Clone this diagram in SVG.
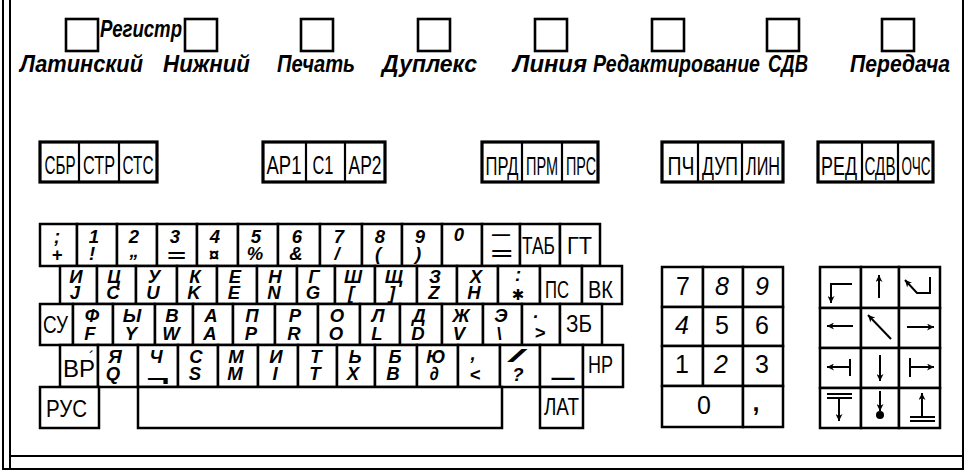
<svg xmlns="http://www.w3.org/2000/svg" width="968" height="475" viewBox="0 0 968 475">
<style>
.fr{fill:none;stroke:#000;stroke-width:2}
.ind{fill:#fff;stroke:#000;stroke-width:2.6}
.lb{font-family:"Liberation Sans",Arial,sans-serif;font-style:italic;font-weight:bold;font-size:23px;fill:#000}
.fo{fill:none;stroke:#000;stroke-width:3.2}
.fd{stroke:#000;stroke-width:2.2}
.ft{font-family:"Liberation Sans",Arial,sans-serif;font-size:26px;fill:#000;text-anchor:middle}
.k{fill:#fff;stroke:#000;stroke-width:2.5}
.ch{font-family:"Liberation Sans",Arial,sans-serif;font-style:italic;font-weight:bold;font-size:18.5px;text-anchor:middle;fill:#000}
.kn{font-family:"Liberation Sans",Arial,sans-serif;font-size:24px;fill:#000}
.num{font-family:"Liberation Sans",Arial,sans-serif;font-size:25px;text-anchor:middle;fill:#000}
.ar{fill:none;stroke:#000;stroke-width:2}
</style>
<defs>
<marker id="ah" viewBox="0 0 10 10" refX="10" refY="5" markerWidth="8" markerHeight="7" markerUnits="userSpaceOnUse" orient="auto">
<path d="M0,0 L10,5 L0,10 L3,5 z" fill="#000"/>
</marker>
</defs>
<rect width="968" height="475" fill="#fff"/>
<g id="frame">
<line class="fr" x1="3" y1="0" x2="3" y2="470"/>
<line class="fr" x1="10" y1="0" x2="10" y2="470"/>
<line class="fr" x1="963" y1="0" x2="963" y2="470"/>
<line class="fr" x1="10" y1="456" x2="963" y2="456" stroke-width="2.5"/>
<line class="fr" x1="3" y1="469" x2="963" y2="469"/>
</g>
<g id="indicators">
<g id="ind-lat"><rect class="ind" x="66" y="19" width="32" height="32"/><text class="lb" x="20" y="72" textLength="123" lengthAdjust="spacingAndGlyphs">Латинский</text></g>
<text id="reg-label" class="lb" x="100" y="37" font-size="18" textLength="82" lengthAdjust="spacingAndGlyphs">Регистр</text>
<g id="ind-low"><rect class="ind" x="185" y="19" width="32" height="32"/><text class="lb" x="163" y="72" textLength="87" lengthAdjust="spacingAndGlyphs">Нижний</text></g>
<g id="ind-print"><rect class="ind" x="301" y="19" width="32" height="32"/><text class="lb" x="277" y="72" textLength="78" lengthAdjust="spacingAndGlyphs">Печать</text></g>
<g id="ind-duplex"><rect class="ind" x="418" y="19" width="32" height="32"/><text class="lb" x="382" y="72" textLength="95" lengthAdjust="spacingAndGlyphs">Дуплекс</text></g>
<g id="ind-line"><rect class="ind" x="535" y="19" width="32" height="32"/><text class="lb" x="513" y="72" textLength="74" lengthAdjust="spacingAndGlyphs">Линия</text></g>
<g id="ind-edit"><rect class="ind" x="652" y="19" width="32" height="32"/><text class="lb" x="593" y="72" textLength="167" lengthAdjust="spacingAndGlyphs">Редактирование</text></g>
<g id="ind-sdv"><rect class="ind" x="767" y="19" width="32" height="32"/><text class="lb" x="768" y="72" textLength="40" lengthAdjust="spacingAndGlyphs">СДВ</text></g>
<g id="ind-tx"><rect class="ind" x="882" y="19" width="32" height="32"/><text class="lb" x="850" y="72" textLength="100" lengthAdjust="spacingAndGlyphs">Передача</text></g>
</g>
<g id="fkeys">
<g id="fg1"><rect class="fo" x="40" y="142" width="117" height="40"/><line class="fd" x1="79" y1="142" x2="79" y2="182"/><line class="fd" x1="119" y1="142" x2="119" y2="182"/>
<text class="ft" x="60" y="174" textLength="31" lengthAdjust="spacingAndGlyphs">СБР</text><text class="ft" x="99" y="174" textLength="32" lengthAdjust="spacingAndGlyphs">СТР</text><text class="ft" x="138" y="174" textLength="31" lengthAdjust="spacingAndGlyphs">СТС</text></g>
<g id="fg2"><rect class="fo" x="263" y="142" width="122" height="40"/><line class="fd" x1="306" y1="142" x2="306" y2="182"/><line class="fd" x1="345" y1="142" x2="345" y2="182"/>
<text class="ft" x="284" y="174" textLength="35" lengthAdjust="spacingAndGlyphs">АР1</text><text class="ft" x="323" y="174" textLength="21" lengthAdjust="spacingAndGlyphs">С1</text><text class="ft" x="365" y="174" textLength="33" lengthAdjust="spacingAndGlyphs">АР2</text></g>
<g id="fg3"><rect class="fo" x="482" y="142" width="116" height="40"/><line class="fd" x1="522" y1="142" x2="522" y2="182"/><line class="fd" x1="562" y1="142" x2="562" y2="182"/>
<text class="ft" x="502" y="175" textLength="33" lengthAdjust="spacingAndGlyphs">ПРД</text><text class="ft" x="542" y="175" textLength="32" lengthAdjust="spacingAndGlyphs">ПРМ</text><text class="ft" x="581" y="175" textLength="30" lengthAdjust="spacingAndGlyphs">ПРС</text></g>
<g id="fg4"><rect class="fo" x="662" y="142" width="121" height="40"/><line class="fd" x1="698" y1="142" x2="698" y2="182"/><line class="fd" x1="742" y1="142" x2="742" y2="182"/>
<text class="ft" x="681" y="175" textLength="27" lengthAdjust="spacingAndGlyphs">ПЧ</text><text class="ft" x="720" y="175" textLength="36" lengthAdjust="spacingAndGlyphs">ДУП</text><text class="ft" x="763" y="175" textLength="34" lengthAdjust="spacingAndGlyphs">ЛИН</text></g>
<g id="fg5"><rect class="fo" x="818" y="142" width="115" height="40"/><line class="fd" x1="862" y1="142" x2="862" y2="182"/><line class="fd" x1="898" y1="142" x2="898" y2="182"/>
<text class="ft" x="839" y="175" textLength="36" lengthAdjust="spacingAndGlyphs">РЕД</text><text class="ft" x="880" y="175" textLength="31" lengthAdjust="spacingAndGlyphs">СДВ</text><text class="ft" x="916" y="175" textLength="29" lengthAdjust="spacingAndGlyphs">ОЧС</text></g>
</g>
<g id="row1">
<g><rect class="k" x="40" y="224" width="37" height="42"/><text class="ch" x="57" y="243">;</text><text class="ch" x="57" y="261">+</text></g>
<g><rect class="k" x="77" y="224" width="40" height="42"/><text class="ch" x="94" y="243">1</text><text class="ch" x="92" y="260">!</text></g>
<g><rect class="k" x="117" y="224" width="40" height="42"/><text class="ch" x="134" y="243">2</text><text class="ch" x="134" y="257">„</text></g>
<g><rect class="k" x="157" y="224" width="40" height="42"/><text class="ch" x="175" y="243">3</text><text class="ch" x="176" y="262" textLength="19" lengthAdjust="spacingAndGlyphs">=</text></g>
<g><rect class="k" x="197" y="224" width="41" height="42"/><text class="ch" x="215" y="243">4</text><text class="ch" x="214" y="261">¤</text></g>
<g><rect class="k" x="238" y="224" width="40" height="42"/><text class="ch" x="256" y="243">5</text><text class="ch" x="255" y="260">%</text></g>
<g><rect class="k" x="278" y="224" width="42" height="42"/><text class="ch" x="297" y="243">6</text><text class="ch" x="296" y="260">&amp;</text></g>
<g><rect class="k" x="320" y="224" width="42" height="42"/><text class="ch" x="339" y="243">7</text><text class="ch" x="337" y="260">/</text></g>
<g><rect class="k" x="362" y="224" width="40" height="42"/><text class="ch" x="380" y="243">8</text><text class="ch" x="378" y="260">(</text></g>
<g><rect class="k" x="402" y="224" width="40" height="42"/><text class="ch" x="420" y="243">9</text><text class="ch" x="418" y="260">)</text></g>
<g><rect class="k" x="442" y="224" width="40" height="42"/><text class="ch" x="459" y="241">0</text></g>
<g><rect class="k" x="482" y="224" width="38" height="42"/><text class="ch" x="501" y="240" textLength="18" lengthAdjust="spacingAndGlyphs">—</text><text class="ch" x="501" y="260" textLength="22" lengthAdjust="spacingAndGlyphs">=</text></g>
<g><rect class="k" x="520" y="224" width="40" height="42"/><text class="kn" x="522" y="254" textLength="33" lengthAdjust="spacingAndGlyphs">ТАБ</text></g>
<g><rect class="k" x="560" y="224" width="40" height="42"/><text class="kn" x="567" y="254" textLength="25" lengthAdjust="spacingAndGlyphs">ГТ</text></g>
</g>
<g id="row2">
<g><rect class="k" x="60" y="266" width="37" height="38"/><text class="ch" x="76" y="283">И</text><text class="ch" x="75" y="299">J</text></g>
<g><rect class="k" x="97" y="266" width="39" height="38"/><text class="ch" x="114" y="283">Ц</text><text class="ch" x="113" y="299">C</text></g>
<g><rect class="k" x="136" y="266" width="41" height="38"/><text class="ch" x="154" y="283">У</text><text class="ch" x="153" y="299">U</text></g>
<g><rect class="k" x="177" y="266" width="40" height="38"/><text class="ch" x="195" y="283">К</text><text class="ch" x="194" y="299">K</text></g>
<g><rect class="k" x="217" y="266" width="40" height="38"/><text class="ch" x="235" y="283">Е</text><text class="ch" x="234" y="299">E</text></g>
<g><rect class="k" x="257" y="266" width="40" height="38"/><text class="ch" x="275" y="283">Н</text><text class="ch" x="274" y="299">N</text></g>
<g><rect class="k" x="297" y="266" width="38" height="38"/><text class="ch" x="314" y="283">Г</text><text class="ch" x="313" y="299">G</text></g>
<g><rect class="k" x="335" y="266" width="40" height="38"/><text class="ch" x="353" y="283">Ш</text><text class="ch" x="351" y="299">[</text></g>
<g><rect class="k" x="375" y="266" width="42" height="38"/><text class="ch" x="394" y="283">Щ</text><text class="ch" x="392" y="299">]</text></g>
<g><rect class="k" x="417" y="266" width="40" height="38"/><text class="ch" x="435" y="283">З</text><text class="ch" x="434" y="299">Z</text></g>
<g><rect class="k" x="457" y="266" width="41" height="38"/><text class="ch" x="476" y="283">Х</text><text class="ch" x="474" y="299">H</text></g>
<g><rect class="k" x="498" y="266" width="42" height="38"/><text class="ch" x="518" y="281">:</text><text x="518" y="300" font-family="'DejaVu Sans',sans-serif" font-size="15" text-anchor="middle">✱</text></g>
<g><rect class="k" x="540" y="266" width="42" height="38"/><text class="kn" x="545" y="298" textLength="24" lengthAdjust="spacingAndGlyphs">ПС</text></g>
<g><rect class="k" x="582" y="266" width="40" height="38"/><text class="kn" x="588" y="298" textLength="25" lengthAdjust="spacingAndGlyphs">ВК</text></g>
</g>
<g id="row3">
<g><rect class="k" x="40" y="304" width="33" height="41"/><text class="kn" x="43" y="333" textLength="25" lengthAdjust="spacingAndGlyphs">СУ</text></g>
<g><rect class="k" x="73" y="304" width="40" height="41"/><text class="ch" x="92" y="322">Ф</text><text class="ch" x="90" y="340">F</text></g>
<g><rect class="k" x="113" y="304" width="42" height="41"/><text class="ch" x="132" y="322">Ы</text><text class="ch" x="131" y="340">Y</text></g>
<g><rect class="k" x="155" y="304" width="38" height="41"/><text class="ch" x="172" y="322">В</text><text class="ch" x="171" y="340">W</text></g>
<g><rect class="k" x="193" y="304" width="40" height="41"/><text class="ch" x="211" y="322">А</text><text class="ch" x="210" y="340">A</text></g>
<g><rect class="k" x="233" y="304" width="42" height="41"/><text class="ch" x="252" y="322">П</text><text class="ch" x="251" y="340">P</text></g>
<g><rect class="k" x="275" y="304" width="43" height="41"/><text class="ch" x="295" y="322">Р</text><text class="ch" x="294" y="340">R</text></g>
<g><rect class="k" x="318" y="304" width="42" height="41"/><text class="ch" x="337" y="322">О</text><text class="ch" x="336" y="340">O</text></g>
<g><rect class="k" x="360" y="304" width="40" height="41"/><text class="ch" x="378" y="322">Л</text><text class="ch" x="377" y="340">L</text></g>
<g><rect class="k" x="400" y="304" width="42" height="41"/><text class="ch" x="419" y="322">Д</text><text class="ch" x="418" y="340">D</text></g>
<g><rect class="k" x="442" y="304" width="41" height="41"/><text class="ch" x="461" y="322">Ж</text><text class="ch" x="459" y="340">V</text></g>
<g><rect class="k" x="483" y="304" width="39" height="41"/><text class="ch" x="501" y="322">Э</text><text class="ch" x="499" y="340">\</text></g>
<g><rect class="k" x="522" y="304" width="38" height="41"/><text class="ch" x="536" y="318">.</text><text class="ch" x="540" y="339" font-size="21">&gt;</text></g>
<g><rect class="k" x="560" y="304" width="42" height="41"/><text class="kn" x="566" y="332" textLength="26" lengthAdjust="spacingAndGlyphs">ЗБ</text></g>
</g>
<g id="row4">
<g><rect class="k" x="60" y="345" width="38" height="42"/><text class="kn" x="63" y="377">ВР<tspan dx="-6" dy="-14" font-size="16">´</tspan></text></g>
<g><rect class="k" x="98" y="345" width="40" height="42"/><text class="ch" x="115" y="363">Я</text><text class="ch" x="113" y="380">Q</text></g>
<g><rect class="k" x="138" y="345" width="40" height="42"/><text class="ch" x="156" y="363">Ч</text><text class="ch" x="158" y="385" textLength="23" lengthAdjust="spacingAndGlyphs">¬</text></g>
<g><rect class="k" x="178" y="345" width="40" height="42"/><text class="ch" x="196" y="363">С</text><text class="ch" x="195" y="380">S</text></g>
<g><rect class="k" x="218" y="345" width="40" height="42"/><text class="ch" x="236" y="363">М</text><text class="ch" x="235" y="380">M</text></g>
<g><rect class="k" x="258" y="345" width="40" height="42"/><text class="ch" x="276" y="363">И</text><text class="ch" x="275" y="380">I</text></g>
<g><rect class="k" x="298" y="345" width="39" height="42"/><text class="ch" x="316" y="363">Т</text><text class="ch" x="315" y="380">T</text></g>
<g><rect class="k" x="337" y="345" width="38" height="42"/><text class="ch" x="355" y="363">Ь</text><text class="ch" x="353" y="380">X</text></g>
<g><rect class="k" x="375" y="345" width="42" height="42"/><text class="ch" x="395" y="363">Б</text><text class="ch" x="393" y="380">B</text></g>
<g><rect class="k" x="417" y="345" width="41" height="42"/><text class="ch" x="436" y="363">Ю</text><text class="ch" x="434" y="380">∂</text></g>
<g><rect class="k" x="458" y="345" width="42" height="42"/><text class="ch" x="473" y="360">,</text><text class="ch" x="475" y="381" font-size="22">&lt;</text></g>
<g><rect class="k" x="500" y="345" width="40" height="42"/><text class="ch" x="516" y="362" textLength="14" lengthAdjust="spacingAndGlyphs">/</text><text class="ch" x="518" y="381">?</text></g>
<g><rect class="k" x="540" y="345" width="43" height="42"/><text x="563" y="374" font-family="'DejaVu Sans',sans-serif" font-weight="bold" font-size="24" text-anchor="middle" textLength="23" lengthAdjust="spacingAndGlyphs">_</text></g>
<g><rect class="k" x="583" y="345" width="40" height="42"/><text class="kn" x="588" y="373" textLength="25" lengthAdjust="spacingAndGlyphs">НР</text></g>
</g>
<g id="row5">
<g id="k-rus"><rect class="k" x="40" y="387" width="59" height="41"/><text class="kn" x="46" y="417" textLength="41" lengthAdjust="spacingAndGlyphs">РУС</text></g>
<g id="k-space"><rect class="k" x="138" y="387" width="364" height="41"/></g>
<g id="k-lat"><rect class="k" x="540" y="387" width="43" height="41"/><text class="kn" x="544" y="415" textLength="35" lengthAdjust="spacingAndGlyphs">ЛАТ</text></g>
</g>
<g id="numpad">
<g><rect class="k" x="662" y="267" width="41" height="40"/><text class="num" x="683" y="295">7</text></g>
<g><rect class="k" x="703" y="267" width="40" height="40"/><text class="num" x="722" y="295" font-style="italic">8</text></g>
<g><rect class="k" x="743" y="267" width="40" height="40"/><text class="num" x="762" y="295" font-style="italic">9</text></g>
<g><rect class="k" x="662" y="307" width="41" height="39"/><text class="num" x="682" y="334" font-style="italic">4</text></g>
<g><rect class="k" x="703" y="307" width="40" height="39"/><text class="num" x="722" y="334">5</text></g>
<g><rect class="k" x="743" y="307" width="40" height="39"/><text class="num" x="762" y="334">6</text></g>
<g><rect class="k" x="662" y="346" width="41" height="40"/><text class="num" x="682" y="373">1</text></g>
<g><rect class="k" x="703" y="346" width="40" height="40"/><text class="num" x="721" y="373" font-style="italic">2</text></g>
<g><rect class="k" x="743" y="346" width="40" height="40"/><text class="num" x="762" y="373">3</text></g>
<g><rect class="k" x="662" y="386" width="81" height="41"/><text class="num" x="704" y="414">0</text></g>
<g><rect class="k" x="743" y="386" width="40" height="41"/><text class="num" x="756" y="411" font-weight="bold">,</text></g>
</g>
<g id="arrows">
<g><rect class="k" x="820" y="267" width="41" height="41"/><path class="ar" d="M852,284 H831 V303" marker-end="url(#ah)"/></g>
<g><rect class="k" x="861" y="267" width="38" height="41"/><path class="ar" d="M879,298 V275" marker-end="url(#ah)"/></g>
<g><rect class="k" x="899" y="267" width="41" height="41"/><path class="ar" d="M930,277 V293 H917 L905,280" marker-end="url(#ah)"/></g>
<g><rect class="k" x="820" y="308" width="41" height="40"/><path class="ar" d="M853,326 H827" marker-end="url(#ah)"/></g>
<g><rect class="k" x="861" y="308" width="38" height="40"/><path class="ar" d="M891,339 L868,315" marker-end="url(#ah)"/></g>
<g><rect class="k" x="899" y="308" width="41" height="40"/><path class="ar" d="M907,327 H934" marker-end="url(#ah)"/></g>
<g><rect class="k" x="820" y="348" width="41" height="40"/><path class="ar" d="M850,367 H827" marker-end="url(#ah)"/><line class="ar" x1="850" y1="359" x2="850" y2="376"/></g>
<g><rect class="k" x="861" y="348" width="38" height="40"/><path class="ar" d="M880,355 V381" marker-end="url(#ah)"/></g>
<g><rect class="k" x="899" y="348" width="41" height="40"/><line class="ar" x1="910" y1="358" x2="910" y2="377"/><path class="ar" d="M910,367 H934" marker-end="url(#ah)"/></g>
<g><rect class="k" x="820" y="388" width="41" height="40"/><line class="ar" x1="827" y1="394" x2="852" y2="394"/><line class="ar" x1="827" y1="398" x2="852" y2="398"/><path class="ar" d="M839,398 V421" marker-end="url(#ah)"/></g>
<g><rect class="k" x="861" y="388" width="38" height="40"/><path class="ar" d="M880,391 V411" marker-end="url(#ah)"/><circle cx="880" cy="415" r="4" fill="#000"/></g>
<g><rect class="k" x="899" y="388" width="41" height="40"/><path class="ar" d="M922,416 V393" marker-end="url(#ah)"/><line class="ar" x1="910" y1="417" x2="935" y2="417"/><line class="ar" x1="910" y1="421" x2="935" y2="421"/></g>
</g>
</svg>
